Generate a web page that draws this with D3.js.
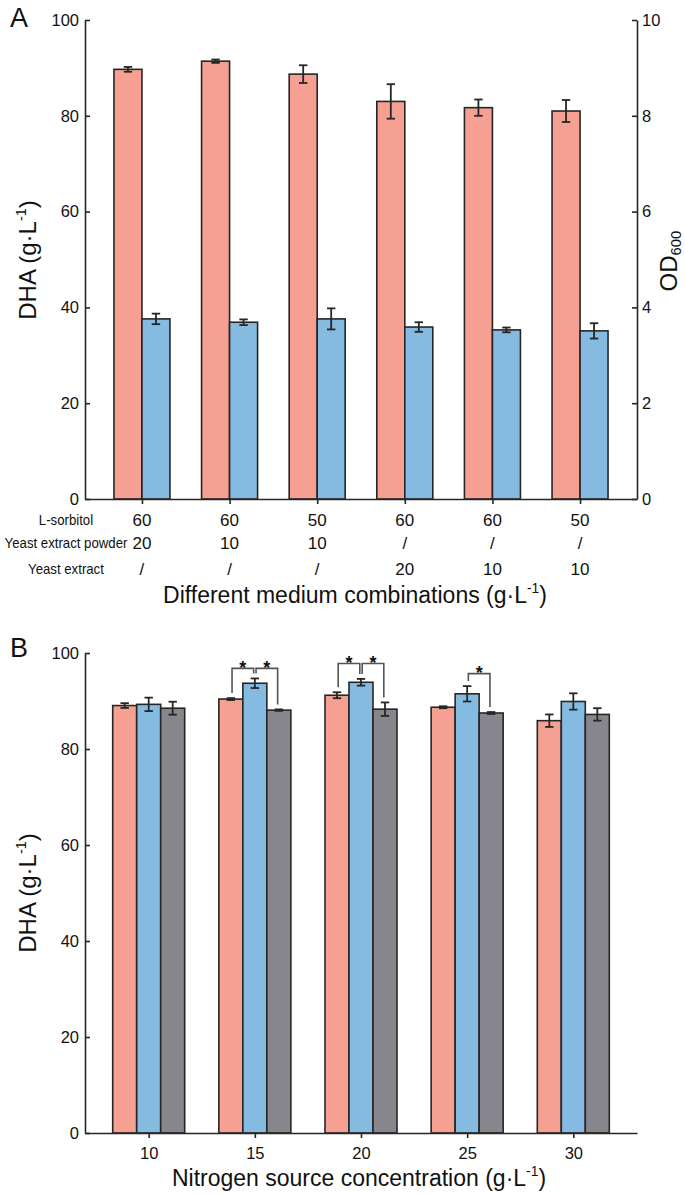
<!DOCTYPE html>
<html><head><meta charset="utf-8">
<script src="https://cdn.jsdelivr.net/npm/d3@7"></script>
<style>
html,body{margin:0;padding:0;background:#fff;}
svg{display:block;font-family:"Liberation Sans",Arial,Helvetica,sans-serif;}
</style></head>
<body>
<svg id="chart" width="685" height="1194"></svg>
<script>
// ---------- Panel A data ----------
const groupsA = ["c1","c2","c3","c4","c5","c6"];
const rowNames = ["L-sorbitol","Yeast extract powder","Yeast extract"];
const sorbitol = ["60","60","50","60","60","50"];
const yeastPowder = ["20","10","10","/","/","/"];
const yeastExtract = ["/","/","/","20","10","10"];
const dhaA = [89.7, 91.4, 88.7, 83.0, 81.7, 81.0];
const dhaAErr = [0.5, 0.35, 1.85, 3.6, 1.7, 2.3];
const odA = [3.76, 3.69, 3.76, 3.59, 3.53, 3.51];
const odAErr = [0.11, 0.06, 0.22, 0.10, 0.05, 0.16];
const leftTicksA = [0,20,40,60,80,100];
const rightTicksA = [0,2,4,6,8,10];

// ---------- Panel B data ----------
const nitrogen = ["10","15","20","25","30"];
const seriesBNames = ["s1","s2","s3"];
const dhaB1 = [89.05, 90.4, 91.2, 88.7, 85.9];
const dhaB1Err = [0.5, 0.2, 0.62, 0.2, 1.3];
const dhaB2 = [89.3, 93.7, 93.9, 91.5, 89.9];
const dhaB2Err = [1.4, 1.0, 0.7, 1.6, 1.7];
const dhaB3 = [88.5, 88.1, 88.3, 87.5, 87.2];
const dhaB3Err = [1.35, 0.15, 1.4, 0.2, 1.3];
const ticksB = [0,20,40,60,80,100];
// significance brackets: group, bar index from, bar index to, bracket level (g/L)
const sigGroup = ["15","15","20","20","25"];
const sigFrom = [0,1,0,1,1];
const sigTo = [1,2,1,2,2];
const sigLevel = [96.8,96.8,97.8,97.8,95.7];

// ---------- styles ----------
const RED = "#F5A092", BLUE = "#86BBE1", GRAY = "#86868C";
const INK = "#262626";
const svg = d3.select("#chart");
const font = "'Liberation Sans', Arial, Helvetica, sans-serif";

function styleAxis(g){
  g.select(".domain").attr("stroke",INK).attr("stroke-width",1.6);
  g.selectAll(".tick line").attr("stroke",INK).attr("stroke-width",1.6);
  g.selectAll(".tick text").attr("fill","#111").attr("font-size",16.5).attr("font-family",font);
}
function errBar(g, x, yTop, yBot, cap){
  g.append("line").attr("x1",x).attr("x2",x).attr("y1",yTop).attr("y2",yBot)
    .attr("stroke",INK).attr("stroke-width",1.8);
  [yTop,yBot].forEach(y=>g.append("line").attr("x1",x-cap).attr("x2",x+cap).attr("y1",y).attr("y2",y)
    .attr("stroke",INK).attr("stroke-width",1.8));
}
function gL(sel){ // writes "(g·L-1)" with superscript
  sel.append("tspan").text("(g·L");
  sel.append("tspan").text("-1").attr("font-size","0.6em").attr("dy","-0.7em");
  sel.append("tspan").text(")").attr("dy","0.42em");
}

// ================= Panel A =================
const xA = d3.scalePoint().domain(groupsA).range([85,637]).padding(0.65);
const yA = d3.scaleLinear().domain([0,100]).range([499,20]);
const yA2 = d3.scaleLinear().domain([0,10]).range([499,20]);
const bwA = 28;
const gA = svg.append("g");

groupsA.forEach((c,i)=>{
  const cx = xA(c);
  gA.append("rect").attr("x",cx-bwA).attr("width",bwA)
    .attr("y",yA(dhaA[i])).attr("height",yA(0)-yA(dhaA[i]))
    .attr("fill",RED).attr("stroke",INK).attr("stroke-width",1.6);
  gA.append("rect").attr("x",cx).attr("width",bwA)
    .attr("y",yA2(odA[i])).attr("height",yA2(0)-yA2(odA[i]))
    .attr("fill",BLUE).attr("stroke",INK).attr("stroke-width",1.6);
  errBar(gA, cx-bwA/2, yA(dhaA[i]+dhaAErr[i]), yA(dhaA[i]-dhaAErr[i]), 4.2);
  errBar(gA, cx+bwA/2, yA2(odA[i]+odAErr[i]), yA2(odA[i]-odAErr[i]), 4.2);
});

gA.append("g").attr("transform","translate(85,0)")
  .call(d3.axisLeft(yA).tickValues(leftTicksA).tickSizeInner(-5).tickSizeOuter(0).tickPadding(6))
  .call(styleAxis);
gA.append("g").attr("transform","translate(637,0)")
  .call(d3.axisRight(yA2).tickValues(rightTicksA).tickSizeInner(-5).tickSizeOuter(0).tickPadding(5))
  .call(styleAxis);
gA.append("g").attr("transform","translate(0,499)")
  .call(d3.axisBottom(xA).tickSizeInner(5).tickSizeOuter(0).tickFormat(""))
  .call(styleAxis);

// table
const rowsA = [sorbitol, yeastPowder, yeastExtract];
const rowY = [520, 543.5, 569];
rowsA.forEach((row,r)=>{
  gA.append("text").attr("x",66).attr("y",rowY[r]).attr("dy","0.35em")
    .attr("text-anchor","middle").attr("font-size",14.2).attr("font-family",font).attr("fill","#111")
    .attr("transform",`translate(66,0) scale(0.93,1) translate(-66,0)`)
    .text(rowNames[r]);
  row.forEach((v,i)=>{
    gA.append("text").attr("x",xA(groupsA[i])).attr("y",rowY[r]).attr("dy","0.35em")
      .attr("text-anchor","middle").attr("font-size",17).attr("font-family",font).attr("fill","#111")
      .text(v);
  });
});

// titles A
const tA = gA.append("text").attr("x",355).attr("y",603).attr("text-anchor","middle")
  .attr("font-size",23).attr("font-family",font).attr("fill","#111");
tA.append("tspan").text("Different medium combinations ");
gL(tA);

const yTitleA = gA.append("text").attr("transform","translate(36,260) rotate(-90)")
  .attr("text-anchor","middle").attr("font-size",24).attr("font-family",font).attr("fill","#111");
yTitleA.append("tspan").text("DHA ");
gL(yTitleA);

const odT = gA.append("text").attr("transform","translate(677,261) rotate(-90)")
  .attr("text-anchor","middle").attr("font-size",24).attr("font-family",font).attr("fill","#111");
odT.append("tspan").text("OD");
odT.append("tspan").text("600").attr("font-size","0.62em").attr("dy","0.25em");

gA.append("text").attr("x",10).attr("y",27).attr("font-size",27).attr("font-family",font).attr("fill","#111").text("A");

// ================= Panel B =================
const xB = d3.scalePoint().domain(nitrogen).range([85,637]).padding(0.6);
const yB = d3.scaleLinear().domain([0,100]).range([1133,653]);
const bwB = 24;
const gB = svg.append("g");
const valsB = [dhaB1, dhaB2, dhaB3];
const errsB = [dhaB1Err, dhaB2Err, dhaB3Err];
const colsB = [RED, BLUE, GRAY];
const barX = (g,s) => xB(g) + (s-1)*bwB;

nitrogen.forEach((g,i)=>{
  seriesBNames.forEach((sn,s)=>{
    const v = valsB[s][i], e = errsB[s][i];
    gB.append("rect").attr("x",barX(g,s)-bwB/2).attr("width",bwB)
      .attr("y",yB(v)).attr("height",yB(0)-yB(v))
      .attr("fill",colsB[s]).attr("stroke",INK).attr("stroke-width",1.6);
    errBar(gB, barX(g,s), yB(v+e), yB(v-e), 4.2);
  });
});

gB.append("g").attr("transform","translate(85,0)")
  .call(d3.axisLeft(yB).tickValues(ticksB).tickSizeInner(-5).tickSizeOuter(0).tickPadding(6))
  .call(styleAxis);
gB.append("g").attr("transform","translate(0,1133)")
  .call(d3.axisBottom(xB).tickSizeInner(5).tickSizeOuter(0).tickPadding(9))
  .call(styleAxis);

sigGroup.forEach((g,k)=>{
  const i = nitrogen.indexOf(g);
  const a = sigFrom[k], b = sigTo[k];
  const xa = barX(g,a) + 1.2, xb = barX(g,b) - 1.2;
  const yl = yB(sigLevel[k]);
  const ya = yB(valsB[a][i] + errsB[a][i]) - 5;
  const yb = yB(valsB[b][i] + errsB[b][i]) - 5;
  gB.append("path").attr("d",`M${xa},${ya}V${yl}H${xb}V${yb}`)
    .attr("fill","none").attr("stroke","#555").attr("stroke-width",1.6);
  gB.append("text").attr("x",(xa+xb)/2).attr("y",yl+5.5).attr("text-anchor","middle")
    .attr("font-size",18).attr("font-weight","bold").attr("font-family",font).attr("fill","#111").text("*");
});

const tB = gB.append("text").attr("x",359).attr("y",1186).attr("text-anchor","middle")
  .attr("font-size",23).attr("font-family",font).attr("fill","#111");
tB.append("tspan").text("Nitrogen source concentration ");
gL(tB);

const yTitleB = gB.append("text").attr("transform","translate(36,893) rotate(-90)")
  .attr("text-anchor","middle").attr("font-size",24).attr("font-family",font).attr("fill","#111");
yTitleB.append("tspan").text("DHA ");
gL(yTitleB);

gB.append("text").attr("x",10).attr("y",657).attr("font-size",27).attr("font-family",font).attr("fill","#111").text("B");
</script>
</body></html>
